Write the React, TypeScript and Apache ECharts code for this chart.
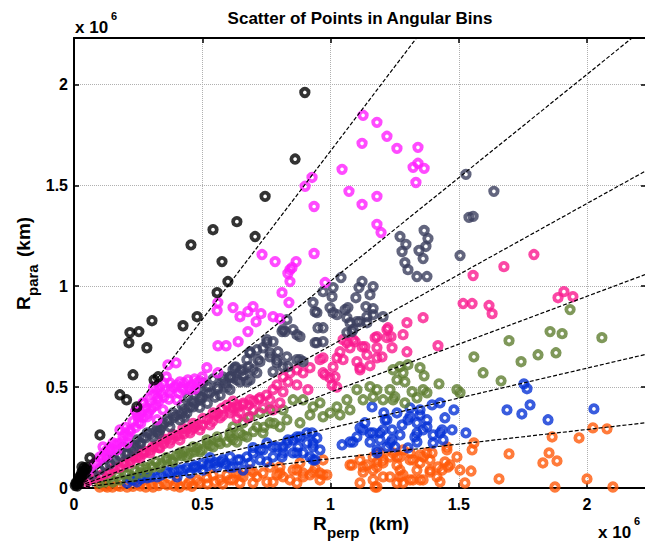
import React, { useEffect, useRef } from "react";
import * as echarts from "echarts";

// values in units of 10^6 km: [R_perp, R_para]
const blackPts = [
  [0.9, 1.96], [0.862, 1.63], [0.745, 1.445], [0.635, 1.32], [0.542, 1.28], [0.456, 1.205], [0.706, 1.246],
  [0.577, 1.122], [0.6, 1.023], [0.558, 0.968], [0.48, 0.849], [0.425, 0.804], [0.304, 0.829], [0.218, 0.77],
  [0.214, 0.72], [0.253, 0.775], [0.284, 0.695], [0.23, 0.561], [0.312, 0.536], [0.328, 0.551], [0.179, 0.462],
  [0.205, 0.437], [0.245, 0.402], [0.101, 0.263], [0.062, 0.149], [0.031, 0.104],
  [0.01, 0.02], [0.015, 0.035], [0.02, 0.05], [0.025, 0.06], [0.03, 0.075], [0.035, 0.085], [0.04, 0.07],
  [0.045, 0.09], [0.012, 0.01], [0.005, 0.012], [0.02, 0.03], [0.03, 0.055], [0.008, 0.025], [0.05, 0.1], [0.04, 0.1],
];

const magentaPts = [
  [1.127, 1.847], [1.181, 1.812], [1.22, 1.743], [1.259, 1.683], [1.123, 1.708], [1.341, 1.688], [1.322, 1.589],
  [1.341, 1.609], [1.365, 1.584], [1.333, 1.514], [1.045, 1.579], [0.928, 1.539], [0.901, 1.495], [0.936, 1.395],
  [1.072, 1.47], [1.123, 1.405], [1.181, 1.445], [1.181, 1.306], [1.197, 1.266], [0.936, 1.162], [0.733, 1.157],
  [0.784, 1.122], [0.866, 1.122], [0.85, 1.092], [0.834, 1.063], [0.842, 1.023], [0.979, 1.018], [0.811, 0.968],
  [0.838, 0.919], [0.561, 0.919], [0.558, 0.879], [0.62, 0.894], [0.647, 0.849], [0.678, 0.874], [0.698, 0.899],
  [0.729, 0.864], [0.71, 0.824], [0.776, 0.849], [0.803, 0.839], [0.678, 0.775], [0.64, 0.725], [0.842, 1.082],
  [0.561, 0.705], [0.593, 0.705], [0.366, 0.61], [0.398, 0.62], [0.518, 0.596], [0.561, 0.571], [0.335, 0.5],
  [0.374, 0.521], [0.413, 0.526], [0.444, 0.536], [0.48, 0.521], [0.425, 0.487], [0.327, 0.447], [0.308, 0.402],
  [0.285, 0.353], [0.25, 0.323], [0.218, 0.288], [0.191, 0.253], [0.152, 0.223], [0.129, 0.189], [0.101, 0.154],
  [0.374, 0.472], [0.347, 0.387], [0.296, 0.452], [0.402, 0.437], [0.245, 0.372], [0.324, 0.338], [0.179, 0.288],
  [0.207, 0.223], [0.168, 0.189], [0.113, 0.204], [0.452, 0.487], [0.269, 0.422], [0.324, 0.487],
  [0.36, 0.55], [0.39, 0.5], [0.34, 0.47], [0.28, 0.4], [0.23, 0.33], [0.26, 0.37], [0.2, 0.3], [0.14, 0.2],
  [0.12, 0.17], [0.08, 0.12], [0.06, 0.09], [0.31, 0.5], [0.42, 0.5], [0.46, 0.51], [0.24, 0.38],
  [0.09, 0.13], [0.11, 0.15], [0.13, 0.16], [0.15, 0.19], [0.17, 0.22], [0.19, 0.23], [0.21, 0.26], [0.22, 0.28],
  [0.24, 0.3], [0.26, 0.32], [0.27, 0.35], [0.29, 0.37], [0.3, 0.39], [0.32, 0.41], [0.33, 0.43], [0.35, 0.45],
  [0.37, 0.44], [0.38, 0.49], [0.4, 0.51], [0.41, 0.47], [0.43, 0.52], [0.45, 0.5], [0.47, 0.54], [0.49, 0.53],
  [0.35, 0.52], [0.31, 0.46], [0.27, 0.42], [0.25, 0.35], [0.2, 0.27], [0.16, 0.21], [0.47, 0.49], [0.5, 0.55],
];

const slatePts = [
  [1.528, 1.554], [1.637, 1.47], [1.54, 1.341], [1.556, 1.346], [1.505, 1.152], [1.271, 1.246], [1.294, 1.207],
  [1.279, 1.172], [1.29, 1.117], [1.302, 1.082], [1.337, 1.048], [1.376, 1.048], [1.365, 1.276], [1.38, 1.236],
  [1.372, 1.197], [1.345, 1.177], [1.361, 1.137], [1.041, 1.043], [1.123, 1.023], [1.111, 0.993], [1.166, 0.998],
  [1.01, 0.993], [1.006, 0.948], [0.971, 0.973], [1.154, 0.958], [1.099, 0.943], [0.998, 0.894], [1.068, 0.894],
  [1.138, 0.899], [1.025, 0.859], [1.064, 0.844], [1.166, 0.889], [1.166, 0.859], [1.205, 0.849], [1.103, 0.824],
  [1.142, 0.819], [1.064, 0.77], [1.088, 0.785], [0.971, 0.794], [0.971, 0.725],
  [0.932, 0.919], [0.94, 0.874], [1.057, 0.884], [0.951, 0.794], [0.83, 0.834], [0.815, 0.785], [0.854, 0.785],
  [0.881, 0.75], [0.94, 0.72], [0.811, 0.775], [0.752, 0.735], [0.713, 0.685], [0.686, 0.67], [0.764, 0.67],
  [0.717, 0.636], [0.791, 0.636], [0.83, 0.65], [0.881, 0.636], [0.815, 0.6], [0.62, 0.586], [0.713, 0.571],
  [0.776, 0.576], [0.635, 0.536], [0.581, 0.536], [0.558, 0.5], [0.596, 0.5], [0.674, 0.526], [0.491, 0.452],
  [0.947, 0.869], [1.01, 0.869], [1.076, 0.819], [1.115, 0.824], [1.142, 0.849], [1.084, 0.775], [0.823, 0.775],
  [0.869, 0.76], [0.947, 0.72], [0.752, 0.72], [0.776, 0.725], [0.795, 0.675], [0.764, 0.65], [0.737, 0.695],
  [0.686, 0.675], [0.869, 0.636], [0.893, 0.626], [0.674, 0.636], [0.725, 0.626], [0.791, 0.621], [0.834, 0.601],
  [0.628, 0.596], [0.659, 0.586], [0.698, 0.586], [0.62, 0.546], [0.647, 0.526], [0.686, 0.536], [0.608, 0.487],
  [0.152, 0.154], [0.23, 0.189], [0.21, 0.174], [0.257, 0.223], [0.308, 0.253], [0.335, 0.288], [0.374, 0.303],
  [0.413, 0.338], [0.44, 0.372], [0.464, 0.402], [0.491, 0.437], [0.518, 0.472], [0.542, 0.54], [0.503, 0.521],
  [0.48, 0.487], [0.444, 0.452], [0.421, 0.412], [0.386, 0.372], [0.363, 0.338], [0.324, 0.303], [0.285, 0.273],
  [0.245, 0.238], [0.191, 0.204], [0.129, 0.149], [0.608, 0.551], [0.58, 0.55], [0.52, 0.5], [0.46, 0.43],
  [0.4, 0.36], [0.35, 0.32], [0.3, 0.27], [0.27, 0.25], [0.22, 0.2], [0.18, 0.16], [0.1, 0.09], [0.07, 0.065],
  [0.63, 0.6], [0.66, 0.56], [0.55, 0.45], [0.43, 0.39],
  [0.12, 0.11], [0.14, 0.12], [0.16, 0.14], [0.2, 0.17], [0.24, 0.21], [0.26, 0.22], [0.28, 0.25], [0.32, 0.28],
  [0.34, 0.3], [0.37, 0.33], [0.39, 0.35], [0.42, 0.37], [0.45, 0.4], [0.47, 0.42], [0.5, 0.45], [0.53, 0.47],
  [0.56, 0.49], [0.59, 0.52], [0.61, 0.55], [0.65, 0.58], [0.68, 0.6], [0.33, 0.27], [0.43, 0.35], [0.57, 0.46],
  [0.52, 0.42], [0.49, 0.4],
];

const pinkPts = [
  [1.793, 1.157], [1.676, 1.097], [1.556, 1.053], [1.517, 0.914], [1.552, 0.914], [1.618, 0.904], [1.63, 0.864],
  [1.887, 0.943], [1.91, 0.973], [1.945, 0.948], [1.419, 0.705], [1.361, 0.844], [1.298, 0.819], [1.298, 0.675],
  [1.283, 0.76], [1.224, 0.794], [1.236, 0.75], [1.174, 0.745], [1.134, 0.7], [1.24, 0.695], [1.201, 0.65],
  [1.154, 0.606], [1.115, 0.586], [1.037, 0.675], [1.064, 0.72], [1.096, 0.725], [1.076, 0.695], [1.025, 0.645],
  [1.049, 0.636], [0.971, 0.645], [0.979, 0.561], [1.018, 0.551], [1.025, 0.5], [1.006, 0.51],
  [1.049, 0.735], [1.088, 0.735], [1.123, 0.7], [1.181, 0.75], [1.22, 0.785], [1.22, 0.745], [1.181, 0.695],
  [1.142, 0.66], [1.181, 0.645], [1.103, 0.626], [1.115, 0.596], [1.01, 0.6], [0.998, 0.546], [0.971, 0.571],
  [0.92, 0.596], [0.959, 0.636], [0.893, 0.571], [0.869, 0.586], [0.842, 0.571], [0.815, 0.551], [0.834, 0.526],
  [0.869, 0.511], [0.912, 0.487], [0.791, 0.511], [0.776, 0.487], [0.815, 0.477], [0.764, 0.437], [0.725, 0.447],
  [0.803, 0.422], [0.686, 0.437], [0.659, 0.412], [0.698, 0.387], [0.737, 0.397], [0.776, 0.387], [0.647, 0.372],
  [0.62, 0.397], [0.678, 0.348], [0.635, 0.348],
  [0.129, 0.074], [0.179, 0.104], [0.218, 0.124], [0.257, 0.149], [0.296, 0.174], [0.335, 0.199], [0.374, 0.223],
  [0.413, 0.238], [0.452, 0.273], [0.491, 0.288], [0.53, 0.313], [0.569, 0.348], [0.608, 0.372], [0.635, 0.412],
  [0.596, 0.41], [0.542, 0.372], [0.503, 0.345], [0.464, 0.32], [0.425, 0.295], [0.386, 0.265], [0.347, 0.243],
  [0.308, 0.205], [0.269, 0.18], [0.23, 0.155], [0.191, 0.125], [0.152, 0.1], [0.62, 0.43], [0.577, 0.395],
  [0.1, 0.06], [0.08, 0.05], [0.06, 0.04], [0.05, 0.03], [0.44, 0.29], [0.52, 0.34], [0.56, 0.37], [0.48, 0.31],
  [0.4, 0.26], [0.36, 0.24], [0.32, 0.21], [0.28, 0.18], [0.24, 0.15], [0.66, 0.42], [0.7, 0.43],
  [0.11, 0.065], [0.14, 0.085], [0.16, 0.1], [0.2, 0.12], [0.22, 0.14], [0.25, 0.16], [0.27, 0.17], [0.3, 0.19],
  [0.33, 0.2], [0.35, 0.22], [0.38, 0.24], [0.41, 0.26], [0.43, 0.27], [0.46, 0.29], [0.5, 0.31], [0.54, 0.33],
  [0.58, 0.36], [0.61, 0.39], [0.64, 0.4], [0.68, 0.41], [0.72, 0.44], [0.75, 0.46], [0.47, 0.3], [0.55, 0.36],
];

const olivePts = [
  [1.934, 0.884], [2.058, 0.745], [1.856, 0.775], [1.903, 0.765], [1.879, 0.67], [1.809, 0.66], [1.743, 0.626],
  [1.696, 0.73], [1.665, 0.531], [1.595, 0.571], [1.559, 0.65], [1.423, 0.516], [1.493, 0.487], [1.505, 0.472],
  [1.365, 0.556], [1.349, 0.596], [1.302, 0.611], [1.271, 0.601], [1.283, 0.571], [1.259, 0.536], [1.29, 0.526],
  [1.318, 0.477], [1.361, 0.487], [1.376, 0.472], [1.251, 0.452], [1.29, 0.422], [1.337, 0.447], [1.232, 0.487],
  [1.244, 0.586], [1.181, 0.487], [1.154, 0.502], [1.127, 0.437], [1.166, 0.452], [1.205, 0.437], [1.244, 0.437],
  [1.103, 0.487], [1.064, 0.437], [1.076, 0.387], [1.025, 0.402], [0.998, 0.372], [1.037, 0.362], [0.959, 0.422],
  [0.971, 0.353], [0.932, 0.402], [0.92, 0.362], [0.893, 0.437], [0.854, 0.437], [0.815, 0.387], [0.83, 0.338],
  [0.881, 0.323], [0.764, 0.387], [0.725, 0.372], [0.686, 0.353], [0.713, 0.303], [0.659, 0.323], [0.764, 0.323],
  [0.62, 0.303], [0.647, 0.273], [0.803, 0.303], [0.608, 0.253], [0.737, 0.273], [0.635, 0.228], [0.674, 0.253],
  [0.179, 0.04], [0.23, 0.055], [0.285, 0.079], [0.335, 0.104], [0.386, 0.129], [0.44, 0.154], [0.491, 0.179],
  [0.542, 0.204], [0.596, 0.228], [0.608, 0.273], [0.558, 0.253], [0.518, 0.238], [0.464, 0.204], [0.413, 0.174],
  [0.363, 0.139], [0.308, 0.104], [0.257, 0.074], [0.152, 0.03], [0.2, 0.07], [0.26, 0.1], [0.32, 0.13],
  [0.4, 0.16], [0.48, 0.2], [0.56, 0.23], [0.47, 0.18], [0.36, 0.15], [0.12, 0.03], [0.1, 0.025],
  [0.14, 0.05], [0.17, 0.06], [0.21, 0.07], [0.24, 0.085], [0.28, 0.1], [0.3, 0.11], [0.34, 0.12], [0.38, 0.14],
  [0.42, 0.16], [0.45, 0.17], [0.5, 0.19], [0.53, 0.21], [0.57, 0.22], [0.62, 0.24], [0.66, 0.26], [0.7, 0.28],
  [0.74, 0.3], [0.78, 0.32], [0.52, 0.22], [0.43, 0.18],
];

const bluePts = [
  [1.688, 0.387], [1.746, 0.367], [1.778, 0.412], [1.848, 0.338], [2.027, 0.392], [1.528, 0.273], [1.481, 0.387],
  [1.446, 0.348], [1.474, 0.288], [1.427, 0.273], [1.4, 0.223], [1.439, 0.238], [1.376, 0.338], [1.376, 0.303],
  [1.349, 0.362], [1.337, 0.273], [1.337, 0.228], [1.302, 0.199], [1.302, 0.338], [1.279, 0.313], [1.31, 0.397],
  [1.396, 0.412], [1.427, 0.422], [1.259, 0.372], [1.24, 0.288], [1.271, 0.263], [1.24, 0.238], [1.213, 0.338],
  [1.193, 0.273], [1.22, 0.204], [1.181, 0.189], [1.154, 0.273], [1.154, 0.228], [1.115, 0.298], [1.088, 0.228],
  [1.045, 0.214], [1.134, 0.323], [1.754, 0.516], [1.766, 0.492], [1.208, 0.372], [1.162, 0.402],
  [1.435, 0.288], [1.4, 0.263], [1.361, 0.288], [1.337, 0.323], [1.31, 0.353], [1.349, 0.387], [1.329, 0.253],
  [1.251, 0.204], [0.928, 0.273], [0.947, 0.248], [0.908, 0.223], [0.932, 0.204], [0.893, 0.174], [0.92, 0.154],
  [0.94, 0.139], [0.959, 0.189], [0.873, 0.204], [0.869, 0.253], [0.834, 0.238], [0.854, 0.174], [0.815, 0.204],
  [0.811, 0.154], [0.776, 0.204], [0.776, 0.154], [0.737, 0.189], [0.725, 0.139], [0.752, 0.129], [0.698, 0.174],
  [0.686, 0.124], [0.647, 0.139], [0.659, 0.089], [0.62, 0.104], [1.076, 0.228], [1.103, 0.253], [1.127, 0.288],
  [1.166, 0.273], [1.205, 0.288], [1.193, 0.238], [1.232, 0.223], [1.181, 0.174], [1.22, 0.338],
  [0.207, 0.025], [0.245, 0.03], [0.285, 0.05], [0.324, 0.055], [0.374, 0.074], [0.425, 0.089], [0.48, 0.104],
  [0.53, 0.124], [0.569, 0.129], [0.608, 0.154], [0.639, 0.139], [0.558, 0.104], [0.503, 0.089], [0.452, 0.074],
  [0.402, 0.055], [0.218, 0.045], [0.53, 0.15], [0.269, 0.055], [0.464, 0.1], [0.608, 0.104], [0.674, 0.154],
  [0.725, 0.189], [0.698, 0.2], [0.752, 0.223], [0.791, 0.204], [0.83, 0.223], [0.854, 0.238], [0.881, 0.253],
  [0.815, 0.174], [0.869, 0.174], [0.932, 0.139], [0.908, 0.273], [0.932, 0.223],
  [0.23, 0.04], [0.26, 0.045], [0.3, 0.055], [0.34, 0.065], [0.36, 0.08], [0.39, 0.085], [0.41, 0.09],
  [0.44, 0.1], [0.47, 0.11], [0.5, 0.12], [0.52, 0.11], [0.55, 0.125], [0.58, 0.14], [0.59, 0.12],
];

const orangePts = [
  [2.023, 0.298], [2.078, 0.293], [1.969, 0.248], [1.864, 0.253], [1.852, 0.174], [1.883, 0.134], [1.828, 0.124],
  [1.696, 0.169], [1.657, 0.045], [1.875, 0.005], [2.0, 0.045], [2.101, 0.005], [1.559, 0.223], [1.552, 0.189],
  [1.524, 0.025], [1.548, 0.084], [1.505, 0.089], [1.454, 0.204], [1.446, 0.129], [1.458, 0.104], [1.419, 0.104],
  [1.415, 0.055], [1.427, 0.03], [1.388, 0.089], [1.388, 0.139], [1.376, 0.174], [1.349, 0.04], [1.337, 0.089],
  [1.322, 0.139], [1.349, 0.164], [1.31, 0.174], [1.31, 0.04], [1.283, 0.065], [1.271, 0.089], [1.259, 0.154],
  [1.259, 0.025], [1.232, 0.055], [1.232, 0.154], [1.205, 0.124], [1.193, 0.174], [1.181, 0.129], [1.166, 0.089],
  [1.174, 0.005], [1.127, 0.104], [1.115, 0.139], [1.084, 0.114], [0.971, 0.139], [0.971, 0.065],
  [1.466, 0.114], [1.493, 0.154], [1.454, 0.189], [1.435, 0.089], [1.388, 0.079], [1.396, 0.174], [1.361, 0.154],
  [1.349, 0.124], [1.322, 0.04], [1.361, 0.04], [1.31, 0.139], [1.283, 0.189], [1.271, 0.154], [1.259, 0.114],
  [1.271, 0.055], [1.283, 0.025], [1.244, 0.174], [1.076, 0.114], [1.142, 0.114], [1.127, 0.079], [1.166, 0.154],
  [1.181, 0.104], [1.205, 0.139], [1.205, 0.055], [1.166, 0.04], [1.115, 0.025], [1.181, 0.005],
  [0.959, 0.074], [0.986, 0.065], [0.94, 0.099], [0.92, 0.065], [0.893, 0.074], [0.881, 0.124], [0.854, 0.089],
  [0.842, 0.04], [0.869, 0.025], [0.815, 0.055], [0.803, 0.104], [0.791, 0.065], [0.764, 0.104], [0.737, 0.074],
  [0.752, 0.03], [0.713, 0.055], [0.686, 0.089], [0.698, 0.025], [0.659, 0.055], [0.635, 0.074], [0.647, 0.025],
  [0.608, 0.04], [0.207, 0.005], [0.257, 0.01], [0.308, 0.005], [0.363, 0.015], [0.413, 0.005], [0.491, 0.025],
  [0.518, 0.05], [0.569, 0.04], [0.596, 0.065], [0.62, 0.04], [0.647, 0.065], [0.698, 0.079], [0.776, 0.03],
  [0.803, 0.074], [0.869, 0.089], [0.893, 0.055], [0.932, 0.079], [0.959, 0.04], [0.48, 0.04], [0.542, 0.065],
  [0.1, 0.005], [0.12, 0.01], [0.15, 0.005], [0.17, 0.012], [0.23, 0.008], [0.28, 0.005], [0.33, 0.012],
  [0.39, 0.01], [0.44, 0.015], [0.46, 0.008],
  [0.13, 0.005], [0.18, 0.008], [0.25, 0.02], [0.3, 0.02], [0.35, 0.025], [0.4, 0.03], [0.45, 0.03],
  [0.52, 0.02], [0.55, 0.03], [0.58, 0.02],
];

// slopes (R_para / R_perp) of the angular-bin boundary lines
const binSlopes = [1.67, 1.025, 0.705, 0.475, 0.297, 0.145];

const X_MAX = 2.23;
const Y_MAX = 2.23;
const TICK_STEP = 0.5;

const FONT = "'Liberation Sans', Arial, Helvetica, sans-serif";

const seriesDefs = [
  { name: "orange", color: "#ff5a0a", data: orangePts },
  { name: "blue", color: "#0733d6", data: bluePts },
  { name: "olive", color: "#5f7e31", data: olivePts },
  { name: "pink", color: "#fa1a8e", data: pinkPts },
  { name: "slate", color: "#3b3f5e", data: slatePts },
  { name: "magenta", color: "#ff1eff", data: magentaPts },
  { name: "black", color: "#000000", data: blackPts },
];

export default function App() {
  const ref = useRef<HTMLDivElement>(null);

  useEffect(() => {
    if (!ref.current) return;
    const chart = echarts.init(ref.current, null, { renderer: "svg" });

    const fmt = (v: number) => {
      const r = Math.round(v / TICK_STEP) * TICK_STEP;
      return Math.abs(r - v) < 1e-6 ? String(r) : "";
    };

    const axisCommon = {
      type: "value" as const,
      interval: TICK_STEP,
      axisLine: { show: true, onZero: false, lineStyle: { color: "#000", width: 2 } },
      axisTick: { show: true, inside: true, length: 5, lineStyle: { color: "#000", width: 1.5 } },
    };

    const labelStyle = {
      color: "#000",
      fontWeight: "bold" as const,
      fontSize: 16,
      fontFamily: FONT,
      formatter: fmt,
    };

    const scatterSeries = seriesDefs.map((s) => ({
      name: s.name,
      type: "scatter",
      data: s.data,
      symbol: "circle",
      symbolSize: 7.5,
      silent: true,
      itemStyle: { color: "rgba(0,0,0,0)", borderColor: s.color, borderWidth: 3.8 },
    }));

    const lineSeries = binSlopes.map((k, i) => {
      const xEnd = Math.min(X_MAX, Y_MAX / k);
      return {
        name: "bin" + i,
        type: "line",
        data: [
          [0, 0],
          [xEnd, xEnd * k],
        ],
        showSymbol: false,
        symbol: "none",
        silent: true,
        z: 5,
        lineStyle: { color: "#000", width: 1.2, type: [4, 2] },
      };
    });

    const txt = (text: string, x: number, y: number, size: number, align = "left") => ({
      type: "text",
      x,
      y,
      silent: true,
      style: {
        text,
        fill: "#000",
        font: `bold ${size}px ${FONT}`,
        textAlign: align,
        textVerticalAlign: "middle",
      },
    });

    chart.setOption({
      animation: false,
      backgroundColor: "#fff",
      grid: { left: 74, right: 14, top: 38, bottom: 56, containLabel: false },
      xAxis: [
        {
          ...axisCommon,
          min: 0,
          max: X_MAX,
          position: "bottom",
          axisLabel: { ...labelStyle, margin: 8 },
          splitLine: { show: true, lineStyle: { color: "#b0b0b0", type: "dotted", width: 1 } },
        },
        {
          ...axisCommon,
          min: 0,
          max: X_MAX,
          position: "top",
          axisLabel: { show: false },
          splitLine: { show: false },
        },
      ],
      yAxis: [
        {
          ...axisCommon,
          min: 0,
          max: Y_MAX,
          position: "left",
          axisLabel: { ...labelStyle, margin: 6 },
          splitLine: { show: true, lineStyle: { color: "#b0b0b0", type: "dotted", width: 1 } },
        },
        {
          ...axisCommon,
          min: 0,
          max: Y_MAX,
          position: "right",
          axisLabel: { show: false },
          splitLine: { show: false },
        },
      ],
      series: [...scatterSeries, ...lineSeries],
      graphic: [
        txt("Scatter of Points in Angular Bins", 360, 18, 17, "center"),
        txt("x 10", 75, 27, 17),
        txt("6", 111, 16, 11),
        txt("x 10", 598, 532, 17),
        txt("6", 634, 521, 11),
        txt("R", 313, 523, 19),
        txt("perp", 327, 532, 15),
        txt("(km)", 369, 523, 19),
        {
          type: "group",
          x: 23,
          y: 310,
          rotation: Math.PI / 2,
          children: [txt("R", 0, 0, 19), txt("para", 14, 9, 15), txt("(km)", 53, 0, 19)],
        },
      ],
    });

    return () => chart.dispose();
  }, []);

  return (
    <div
      style={{
        position: "fixed",
        left: 0,
        top: 0,
        width: 645,
        height: 544,
        overflow: "hidden",
        background: "#fff",
      }}
    >
      <div ref={ref} style={{ width: 660, height: 544 }} />
    </div>
  );
}
